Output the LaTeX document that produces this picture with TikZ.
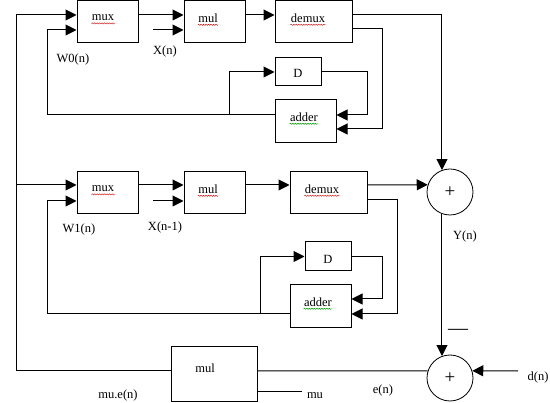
\documentclass[tikz,border=0pt]{standalone}
\usepackage{fontspec}
\setmainfont{Liberation Serif}
\usetikzlibrary{arrows.meta,decorations.pathmorphing,calc}
\begin{document}
\begin{tikzpicture}[x=1pt,y=-1pt,
  line width=1pt,
  box/.style={draw,line width=1pt,inner sep=0pt},
  txt/.style={inner sep=0pt,font=\fontsize{12.5}{13}\selectfont},
  sum/.style={draw,circle,inner sep=0pt,minimum size=46pt,line width=0.8pt,font=\fontsize{19}{19}\selectfont},
  arr/.style={-{Triangle[length=11pt,width=11pt]}},
  redwave/.style={draw=red!80!black,line width=0.45pt,decorate,decoration={snake,amplitude=0.6pt,segment length=2.5pt}},
  greenwave/.style={draw=green!60!black,line width=0.45pt,decorate,decoration={snake,amplitude=0.6pt,segment length=2.5pt}}]
\useasboundingbox (0,0) rectangle (550,403);
% boxes (top)
\node[box,minimum width=61pt,minimum height=42pt] (mux1) at (107.5,22) {};
\node[box,minimum width=61pt,minimum height=42pt] (mul1) at (214.5,22) {};
\node[box,minimum width=77pt,minimum height=42pt] (demux1) at (313.5,22) {};
\node[box,minimum width=46pt,minimum height=28pt] (d1) at (298,72) {};
\node[box,minimum width=61pt,minimum height=43pt] (add1) at (305.5,121.5) {};
% boxes (bottom)
\node[box,minimum width=61pt,minimum height=42pt] (mux2) at (107.5,193) {};
\node[box,minimum width=61pt,minimum height=42pt] (mul2) at (214.5,193) {};
\node[box,minimum width=77pt,minimum height=42pt] (demux2) at (328.5,193) {};
\node[box,minimum width=46pt,minimum height=29pt] (d2) at (328,256.5) {};
\node[box,minimum width=61pt,minimum height=43pt] (add2) at (320.5,306.5) {};
\node[box,minimum width=86pt,minimum height=55pt] (mul3) at (214,374.5) {};
% summing circles
\node[sum] (c1) at (450,192) {+};
\node[sum] (c2) at (450,378) {+};
% box texts
\node[txt] (tmux1) at (103,18) {mux};
\node[txt] (tmul1) at (208,18) {mul};
\node[txt] (tdemux1) at (308,18) {demux};
\node[txt] (td1) at (298,73) {D};
\node[txt] (tadd1) at (304,117) {adder};
\node[txt] (tmux2) at (103,189) {mux};
\node[txt] (tmul2) at (208,189) {mul};
\node[txt] (tdemux2) at (322,189) {demux};
\node[txt] (td2) at (328,259) {D};
\node[txt] (tadd2) at (318,302) {adder};
\node[txt] (tmul3) at (205,368) {mul};
% spell-check underlines
\draw[redwave] ($(tmux1.base west)+(0,2.5)$) -- ($(tmux1.base east)+(0,2.5)$);
\draw[redwave] ($(tmul1.base west)+(0,2.5)$) -- ($(tmul1.base east)+(0,2.5)$);
\draw[redwave] ($(tdemux1.base west)+(0,2.5)$) -- ($(tdemux1.base east)+(0,2.5)$);
\draw[greenwave] ($(tadd1.base west)+(0,2.5)$) -- ($(tadd1.base east)+(0,2.5)$);
\draw[redwave] ($(tmux2.base west)+(0,2.5)$) -- ($(tmux2.base east)+(0,2.5)$);
\draw[redwave] ($(tmul2.base west)+(0,2.5)$) -- ($(tmul2.base east)+(0,2.5)$);
\draw[redwave] ($(tdemux2.base west)+(0,2.5)$) -- ($(tdemux2.base east)+(0,2.5)$);
\draw[greenwave] ($(tadd2.base west)+(0,2.5)$) -- ($(tadd2.base east)+(0,2.5)$);
% signal labels
\node[txt] at (73,59) {W0(n)};
\node[txt] at (165,51) {X(n)};
\node[txt] at (79,229) {W1(n)};
\node[txt] at (165,227) {X(n-1)};
\node[txt] at (465,236) {Y(n)};
\node[txt] at (538,377) {d(n)};
\node[txt] at (383,390) {e(n)};
\node[txt] at (118,395) {mu.e(n)};
\node[txt] at (315,396) {mu};
\node[inner sep=0pt,font=\fontsize{20}{20}\selectfont] at (458,332) {—};
% coordinates
\coordinate (L0) at (16,371);
\coordinate (L1) at (16,15);
\coordinate (L2) at (16,185);
\coordinate (F1) at (47,30);
\coordinate (F2) at (47,201);
\coordinate (X1) at (153,30);
\coordinate (X2) at (153,201);
\coordinate (T1) at (229,115);
\coordinate (T2) at (260,314);
\coordinate (DN) at (518,371);
\coordinate (MU) at (302,392);
% top branch
\draw[arr] (L0) -- (L1) -- (L1 -| mux1.west);
\draw[arr] (mux1.east |- L1) -- (mul1.west |- L1);
\draw[arr] (mul1.east |- L1) -- (demux1.west |- L1);
\draw[arr] (X1) -- (X1 -| mul1.west);
\draw[arr] (add1.west |- T1) -- (F1 |- T1) -- (F1) -- (F1 -| mux1.west);
\draw[arr] (T1) |- (d1.west);
\draw[arr] (d1.east) -| (367,115) -- (add1.east |- T1);
\draw[arr] (demux1.east |- 0,29) -| (382,129) -- (add1.east |- 0,129);
\draw[arr] (demux1.east |- L1) -| (c1.110);
% bottom branch
\draw[arr] (L2) -- (L2 -| mux2.west);
\draw[arr] (mux2.east |- L2) -- (mul2.west |- L2);
\draw[arr] (mul2.east |- L2) -- (demux2.west |- L2);
\draw[arr] (X2) -- (X2 -| mul2.west);
\draw[arr] (add2.west |- T2) -- (F2 |- T2) -- (F2) -- (F2 -| mux2.west);
\draw[arr] (T2) |- (d2.west);
\draw[arr] (d2.east) -| (382,299) -- (add2.east |- 0,299);
\draw[arr] (demux2.east |- 0,200) -| (397,314) -- (add2.east |- T2);
\draw[arr] (demux2.east |- L2) -- (c1.162);
% output and error
\draw[arr] (c1.250) -- (c2.110);
\draw[arr] (DN) -- (c2.18);
\draw (c2.162) -- (mul3.east |- L0);
\draw (mul3.west |- L0) -- (L0);
\draw (mul3.east |- MU) -- (MU);
\end{tikzpicture}
\end{document}
